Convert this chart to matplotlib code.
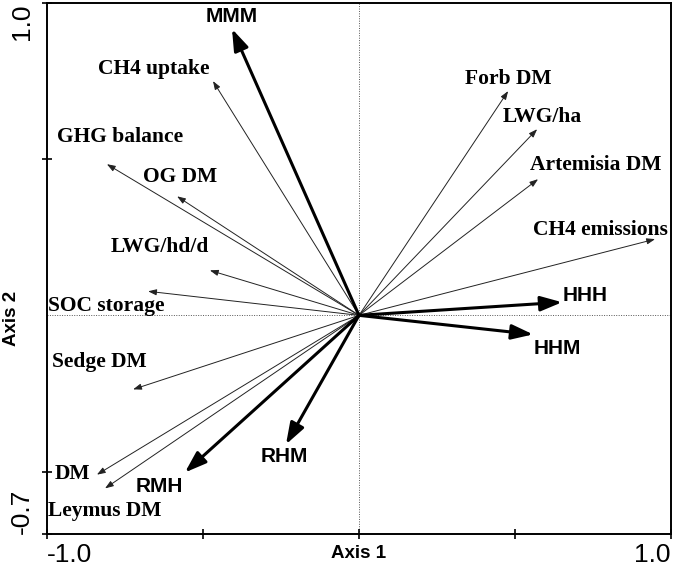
import matplotlib.pyplot as plt

# Variables (thin arrows) - RDA scores
variables = ['CH4 uptake', 'GHG balance', 'OG DM', 'LWG/hd/d', 'SOC storage',
             'Sedge DM', 'DM', 'Leymus DM', 'Forb DM', 'LWG/ha',
             'Artemisia DM', 'CH4 emissions']
var_ax1 = [-0.468, -0.808, -0.583, -0.478, -0.676, -0.724, -0.840, -0.814,
           0.478, 0.571, 0.574, 0.949]
var_ax2 = [0.750, 0.484, 0.381, 0.144, 0.077, -0.237, -0.510, -0.554,
           0.718, 0.596, 0.436, 0.244]

# Treatments (thick arrows)
treatments = ['MMM', 'HHH', 'HHM', 'RHM', 'RMH']
trt_ax1 = [-0.407, 0.651, 0.558, -0.234, -0.558]
trt_ax2 = [0.917, 0.042, -0.061, -0.413, -0.503]

# label offsets from the arrow tip, in pixels
var_off = [(-59, 12), (13, 27), (3, 19), (-50, 23), (-42, -15), (-34, 27),
           (-24, 1), (0, -23), (0, 12), (5, 12), (58, 14), (-55, 9)]
trt_off = [(0, 12), (23, 7), (24, -14), (-2, -12), (-26, -14)]

fig = plt.figure(figsize=(6.75, 5.69), dpi=100)
ax = fig.add_axes([47 / 675, 1 - 534 / 569, 624 / 675, 531 / 569])
ax.set_xlim(-1.0, 1.0)
ax.set_ylim(-0.7, 1.0)

ax.axhline(0, color='#555555', lw=0.7, ls=(0, (1, 1.5)), zorder=1)
ax.axvline(0, color='#555555', lw=0.7, ls=(0, (1, 1.5)), zorder=1)

for name, x, y, off in zip(variables, var_ax1, var_ax2, var_off):
    ax.annotate('', xy=(x, y), xytext=(0, 0),
                arrowprops=dict(arrowstyle='-|>,head_length=0.5,head_width=0.18',
                                mutation_scale=10, lw=0.7, color='#222222',
                                shrinkA=0, shrinkB=0))
    ax.annotate(name, xy=(x, y), xytext=off, textcoords='offset pixels',
                ha='center', va='center', fontsize=15.5, fontweight='bold',
                family='Liberation Serif')

for name, x, y, off in zip(treatments, trt_ax1, trt_ax2, trt_off):
    ax.annotate('', xy=(x, y), xytext=(0, 0),
                arrowprops=dict(arrowstyle='-|>,head_length=1.3,head_width=0.45',
                                mutation_scale=10, lw=2.2, color='black',
                                shrinkA=0, shrinkB=0))
    ax.annotate(name, xy=(x, y), xytext=off, textcoords='offset pixels',
                ha='center', va='center', fontsize=15, fontweight='bold',
                family='Liberation Sans')

for s in ax.spines.values():
    s.set_linewidth(1.4)

ax.set_xticks([-1.0, -0.5, 0, 0.5, 1.0])
ax.set_xticklabels(['-1.0', '', '', '', '1.0'], fontsize=19, family='Liberation Sans')
ax.set_yticks([-0.7, -0.5, 0.5, 1.0])
ax.set_yticklabels(['-0.7', '', '', '1.0'], fontsize=19, family='Liberation Sans',
                   rotation=90)
ax.tick_params(direction='inout', length=7, width=1.2)
ax.tick_params(axis='x', pad=3)
ax.tick_params(axis='y', pad=6)
xl = ax.get_xticklabels()
xl[0].set_ha('left')
xl[-1].set_ha('right')
yl = ax.get_yticklabels()
yl[0].set_va('bottom')
yl[-1].set_va('top')

ax.text(0, -0.735, 'Axis 1', ha='center', va='top', fontsize=13.5,
        fontweight='bold', family='Liberation Sans')
fig.text(12 / 675, 1 - 318 / 569, 'Axis 2', rotation=90, ha='center', va='center',
         fontsize=13.5, fontweight='bold', family='Liberation Sans')

fig.savefig('out.png', dpi=100)
